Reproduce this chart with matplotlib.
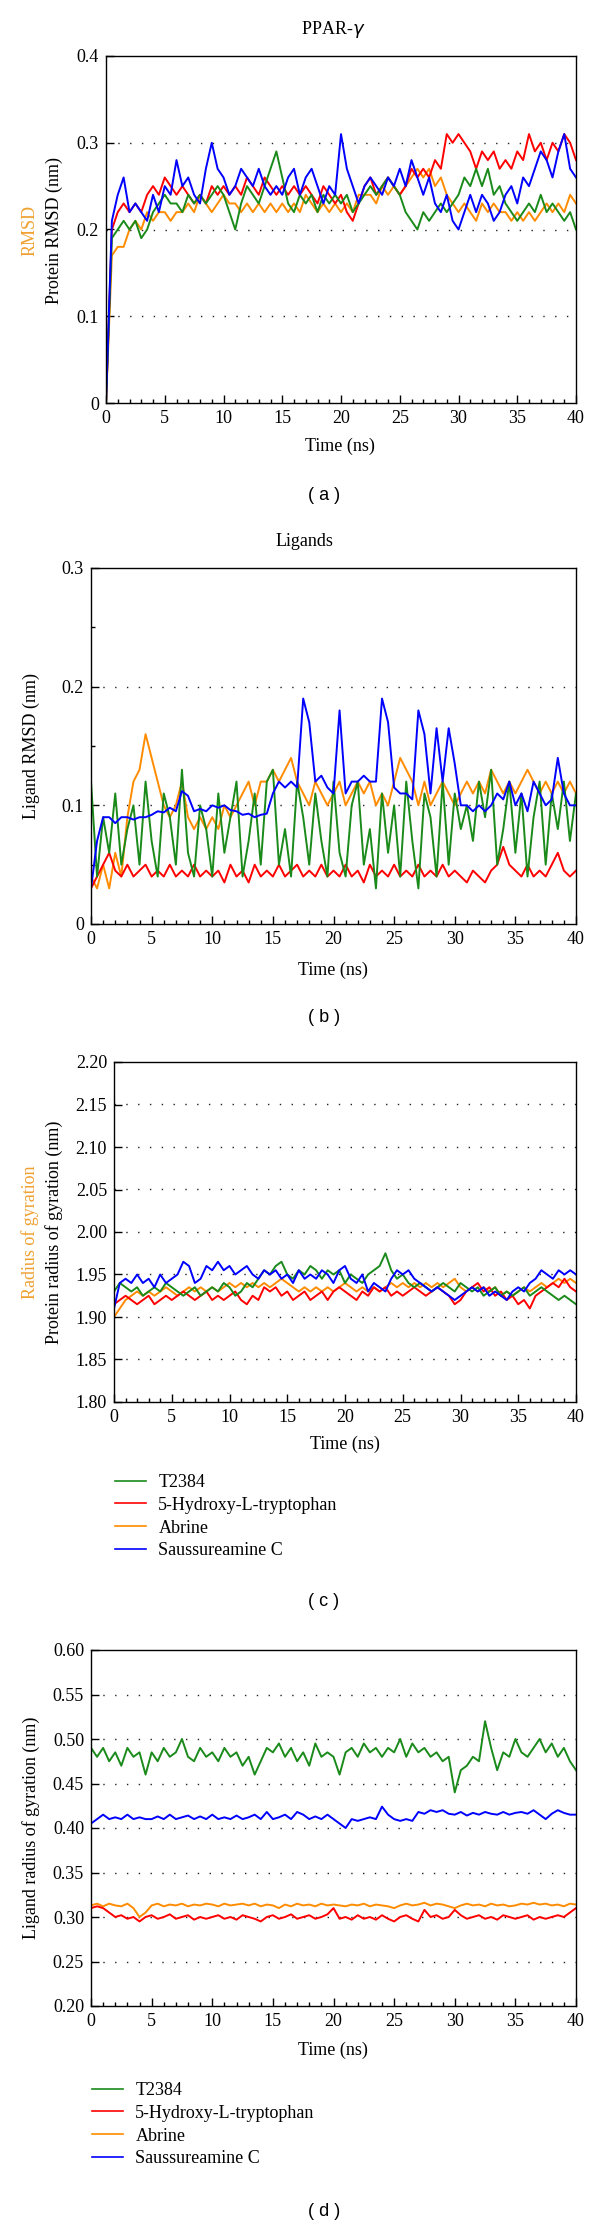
import numpy as np
import matplotlib
matplotlib.use('Agg')
import matplotlib.pyplot as plt
from matplotlib.ticker import MultipleLocator
from matplotlib.lines import Line2D

plt.rcParams['font.family'] = ['Liberation Serif', 'DejaVu Serif']
plt.rcParams['font.size'] = 13

# time axis (ns), one reading every 0.5 ns
t = np.arange(0, 40.01, 0.5)

names = ['T2384', '5-Hydroxy-L-tryptophan', 'Abrine', 'Saussureamine C']
colors = ['#1a8a1a', '#ff0000', '#ff8c00', '#0000ff']

# (a) protein RMSD (nm)
a_green = [0.00, 0.19, 0.20, 0.21, 0.20, 0.21, 0.19, 0.20, 0.22, 0.23,
           0.24, 0.23, 0.23, 0.22, 0.24, 0.23, 0.24, 0.23, 0.24, 0.25,
           0.24, 0.22, 0.20, 0.23, 0.25, 0.24, 0.23, 0.25, 0.27, 0.29,
           0.26, 0.23, 0.22, 0.24, 0.23, 0.24, 0.22, 0.24, 0.23, 0.24,
           0.23, 0.24, 0.22, 0.23, 0.24, 0.25, 0.24, 0.25, 0.26, 0.25,
           0.24, 0.22, 0.21, 0.20, 0.22, 0.21, 0.22, 0.23, 0.22, 0.23,
           0.24, 0.26, 0.25, 0.27, 0.25, 0.27, 0.24, 0.25, 0.23, 0.22,
           0.21, 0.22, 0.23, 0.22, 0.24, 0.22, 0.23, 0.22, 0.21, 0.22,
           0.20]
a_red = [0.00, 0.20, 0.22, 0.23, 0.22, 0.23, 0.22, 0.24, 0.25, 0.24,
         0.26, 0.25, 0.24, 0.25, 0.24, 0.23, 0.24, 0.23, 0.25, 0.24,
         0.25, 0.24, 0.25, 0.24, 0.26, 0.25, 0.24, 0.26, 0.25, 0.24,
         0.25, 0.24, 0.25, 0.24, 0.25, 0.24, 0.23, 0.25, 0.24, 0.23,
         0.24, 0.22, 0.21, 0.23, 0.25, 0.26, 0.24, 0.25, 0.26, 0.25,
         0.24, 0.25, 0.27, 0.26, 0.27, 0.26, 0.28, 0.27, 0.31, 0.30,
         0.31, 0.30, 0.29, 0.27, 0.29, 0.28, 0.29, 0.27, 0.28, 0.27,
         0.29, 0.28, 0.31, 0.29, 0.30, 0.28, 0.30, 0.29, 0.31, 0.30,
         0.28]
a_orange = [0.00, 0.17, 0.18, 0.18, 0.20, 0.21, 0.20, 0.22, 0.21, 0.22,
            0.22, 0.21, 0.22, 0.22, 0.23, 0.22, 0.24, 0.23, 0.22, 0.23,
            0.24, 0.23, 0.23, 0.22, 0.23, 0.22, 0.23, 0.22, 0.23, 0.22,
            0.23, 0.22, 0.23, 0.22, 0.24, 0.23, 0.22, 0.23, 0.22, 0.23,
            0.22, 0.23, 0.22, 0.24, 0.24, 0.24, 0.23, 0.25, 0.24, 0.25,
            0.24, 0.25, 0.26, 0.27, 0.26, 0.27, 0.25, 0.26, 0.24, 0.23,
            0.22, 0.23, 0.22, 0.21, 0.23, 0.22, 0.23, 0.22, 0.22, 0.21,
            0.22, 0.21, 0.22, 0.21, 0.22, 0.23, 0.22, 0.23, 0.22, 0.24,
            0.23]
a_blue = [0.00, 0.21, 0.24, 0.26, 0.22, 0.23, 0.22, 0.21, 0.24, 0.22,
          0.25, 0.24, 0.28, 0.25, 0.26, 0.24, 0.23, 0.27, 0.30, 0.27,
          0.26, 0.24, 0.25, 0.27, 0.26, 0.25, 0.27, 0.25, 0.24, 0.25,
          0.24, 0.26, 0.27, 0.24, 0.26, 0.27, 0.25, 0.23, 0.25, 0.24,
          0.31, 0.27, 0.25, 0.23, 0.25, 0.26, 0.25, 0.24, 0.26, 0.25,
          0.27, 0.25, 0.28, 0.26, 0.24, 0.26, 0.23, 0.22, 0.24, 0.21,
          0.20, 0.22, 0.24, 0.22, 0.24, 0.23, 0.21, 0.22, 0.24, 0.25,
          0.23, 0.26, 0.25, 0.27, 0.29, 0.28, 0.26, 0.29, 0.31, 0.27,
          0.26]

# (b) ligand RMSD (nm)
b_green = [0.12, 0.04, 0.09, 0.06, 0.11, 0.05, 0.08, 0.10, 0.05, 0.12,
           0.07, 0.04, 0.11, 0.09, 0.05, 0.13, 0.06, 0.04, 0.10, 0.08,
           0.04, 0.11, 0.06, 0.09, 0.12, 0.04, 0.07, 0.11, 0.05, 0.12,
           0.13, 0.05, 0.08, 0.04, 0.12, 0.09, 0.05, 0.11, 0.07, 0.04,
           0.12, 0.06, 0.04, 0.10, 0.12, 0.05, 0.08, 0.03, 0.11, 0.06,
           0.10, 0.04, 0.12, 0.07, 0.03, 0.11, 0.09, 0.04, 0.12, 0.05,
           0.11, 0.08, 0.10, 0.07, 0.12, 0.09, 0.13, 0.05, 0.08, 0.12,
           0.06, 0.11, 0.04, 0.09, 0.12, 0.05, 0.11, 0.08, 0.12, 0.07,
           0.11]
b_red = [0.03, 0.04, 0.05, 0.06, 0.045, 0.04, 0.05, 0.04, 0.045, 0.05,
         0.04, 0.045, 0.04, 0.05, 0.04, 0.045, 0.04, 0.05, 0.04, 0.045,
         0.04, 0.045, 0.035, 0.05, 0.04, 0.045, 0.035, 0.05, 0.04, 0.045,
         0.04, 0.05, 0.04, 0.045, 0.05, 0.04, 0.045, 0.04, 0.05, 0.04,
         0.045, 0.04, 0.05, 0.04, 0.045, 0.035, 0.05, 0.04, 0.045, 0.04,
         0.05, 0.04, 0.045, 0.04, 0.05, 0.04, 0.045, 0.04, 0.05, 0.04,
         0.045, 0.04, 0.035, 0.045, 0.04, 0.035, 0.045, 0.05, 0.065, 0.05,
         0.045, 0.04, 0.05, 0.04, 0.045, 0.04, 0.05, 0.06, 0.045, 0.04,
         0.045]
b_orange = [0.04, 0.03, 0.05, 0.03, 0.06, 0.04, 0.09, 0.12, 0.13, 0.16,
            0.14, 0.12, 0.10, 0.09, 0.10, 0.12, 0.09, 0.08, 0.09, 0.08,
            0.09, 0.08, 0.10, 0.09, 0.10, 0.11, 0.12, 0.10, 0.12, 0.12,
            0.13, 0.12, 0.13, 0.14, 0.12, 0.11, 0.10, 0.12, 0.11, 0.10,
            0.11, 0.12, 0.10, 0.11, 0.12, 0.11, 0.12, 0.10, 0.11, 0.10,
            0.12, 0.14, 0.13, 0.12, 0.10, 0.12, 0.10, 0.11, 0.12, 0.11,
            0.10, 0.11, 0.12, 0.11, 0.12, 0.11, 0.13, 0.12, 0.11, 0.12,
            0.11, 0.12, 0.13, 0.12, 0.11, 0.12, 0.11, 0.12, 0.11, 0.12,
            0.11]
b_blue = [0.03, 0.07, 0.09, 0.09, 0.085, 0.09, 0.09, 0.088, 0.09, 0.09,
          0.092, 0.095, 0.094, 0.098, 0.095, 0.112, 0.108, 0.095, 0.097, 0.095,
          0.10, 0.098, 0.10, 0.096, 0.095, 0.092, 0.093, 0.09, 0.092, 0.093,
          0.11, 0.12, 0.115, 0.12, 0.115, 0.19, 0.17, 0.12, 0.125, 0.115,
          0.11, 0.18, 0.11, 0.12, 0.12, 0.125, 0.12, 0.12, 0.19, 0.17,
          0.115, 0.11, 0.11, 0.105, 0.18, 0.16, 0.11, 0.165, 0.12, 0.165,
          0.135, 0.10, 0.10, 0.095, 0.10, 0.095, 0.10, 0.11, 0.105, 0.12,
          0.10, 0.11, 0.095, 0.12, 0.11, 0.10, 0.105, 0.14, 0.11, 0.10,
          0.10]

# (c) protein radius of gyration (nm)
c_green = [1.93, 1.94, 1.935, 1.93, 1.935, 1.925, 1.93, 1.935, 1.93, 1.94,
           1.935, 1.93, 1.925, 1.93, 1.935, 1.925, 1.93, 1.935, 1.93, 1.94,
           1.935, 1.925, 1.93, 1.94, 1.935, 1.945, 1.955, 1.95, 1.96, 1.965,
           1.95, 1.945, 1.955, 1.95, 1.96, 1.955, 1.945, 1.955, 1.95, 1.955,
           1.94, 1.95, 1.945, 1.94, 1.95, 1.955, 1.96, 1.975, 1.955, 1.945,
           1.95, 1.94, 1.935, 1.94, 1.935, 1.93, 1.935, 1.94, 1.935, 1.93,
           1.94, 1.935, 1.93, 1.935, 1.925, 1.93, 1.935, 1.925, 1.93, 1.925,
           1.93, 1.935, 1.925, 1.93, 1.935, 1.93, 1.925, 1.92, 1.925, 1.92,
           1.915]
c_red = [1.915, 1.92, 1.925, 1.92, 1.915, 1.92, 1.925, 1.915, 1.92, 1.925,
         1.92, 1.925, 1.93, 1.925, 1.92, 1.925, 1.93, 1.92, 1.925, 1.92,
         1.925, 1.93, 1.92, 1.915, 1.925, 1.92, 1.935, 1.93, 1.935, 1.925,
         1.93, 1.92, 1.925, 1.93, 1.92, 1.925, 1.93, 1.92, 1.93, 1.935,
         1.93, 1.925, 1.92, 1.93, 1.925, 1.935, 1.93, 1.935, 1.925, 1.93,
         1.925, 1.93, 1.935, 1.93, 1.925, 1.93, 1.935, 1.93, 1.925, 1.915,
         1.92, 1.93, 1.935, 1.94, 1.93, 1.935, 1.925, 1.93, 1.92, 1.925,
         1.915, 1.92, 1.91, 1.925, 1.93, 1.935, 1.94, 1.935, 1.945, 1.935,
         1.93]
c_orange = [1.90, 1.91, 1.92, 1.925, 1.93, 1.925, 1.93, 1.925, 1.93, 1.935,
            1.93, 1.925, 1.93, 1.935, 1.93, 1.935, 1.93, 1.935, 1.93, 1.935,
            1.94, 1.935, 1.94, 1.935, 1.94, 1.935, 1.94, 1.935, 1.94, 1.945,
            1.94, 1.935, 1.93, 1.935, 1.93, 1.935, 1.93, 1.935, 1.93, 1.935,
            1.94, 1.935, 1.93, 1.935, 1.93, 1.935, 1.93, 1.935, 1.94, 1.935,
            1.94, 1.935, 1.94, 1.935, 1.94, 1.935, 1.94, 1.935, 1.94, 1.945,
            1.935, 1.93, 1.935, 1.93, 1.935, 1.93, 1.935, 1.925, 1.93, 1.925,
            1.93, 1.935, 1.93, 1.935, 1.94, 1.935, 1.94, 1.945, 1.94, 1.945,
            1.94]
c_blue = [1.91, 1.94, 1.945, 1.94, 1.95, 1.94, 1.945, 1.935, 1.95, 1.94,
          1.945, 1.95, 1.965, 1.96, 1.94, 1.945, 1.96, 1.955, 1.965, 1.955,
          1.96, 1.95, 1.955, 1.96, 1.95, 1.945, 1.955, 1.95, 1.955, 1.945,
          1.95, 1.94, 1.955, 1.945, 1.95, 1.945, 1.955, 1.95, 1.94, 1.955,
          1.96, 1.945, 1.94, 1.95, 1.93, 1.94, 1.935, 1.93, 1.945, 1.955,
          1.95, 1.955, 1.945, 1.94, 1.935, 1.93, 1.935, 1.93, 1.925, 1.92,
          1.925, 1.93, 1.935, 1.93, 1.935, 1.925, 1.93, 1.925, 1.92, 1.93,
          1.935, 1.93, 1.94, 1.945, 1.955, 1.95, 1.945, 1.955, 1.95, 1.955,
          1.95]

# (d) ligand radius of gyration (nm)
d_green = [0.49, 0.48, 0.49, 0.475, 0.485, 0.47, 0.49, 0.48, 0.485, 0.46,
           0.485, 0.475, 0.49, 0.48, 0.485, 0.50, 0.48, 0.475, 0.49, 0.48,
           0.485, 0.475, 0.49, 0.48, 0.485, 0.47, 0.48, 0.46, 0.475, 0.49,
           0.485, 0.495, 0.48, 0.49, 0.475, 0.485, 0.47, 0.495, 0.48, 0.485,
           0.48, 0.46, 0.485, 0.49, 0.48, 0.495, 0.485, 0.49, 0.48, 0.49,
           0.485, 0.50, 0.48, 0.495, 0.485, 0.49, 0.48, 0.485, 0.475, 0.48,
           0.44, 0.465, 0.47, 0.48, 0.475, 0.52, 0.49, 0.465, 0.485, 0.48,
           0.50, 0.485, 0.48, 0.49, 0.50, 0.485, 0.495, 0.48, 0.49, 0.475,
           0.465]
d_red = [0.31, 0.312, 0.31, 0.305, 0.30, 0.302, 0.298, 0.30, 0.295, 0.30,
         0.302, 0.298, 0.30, 0.303, 0.298, 0.30, 0.302, 0.297, 0.30, 0.298,
         0.30, 0.302, 0.298, 0.30, 0.297, 0.302, 0.30, 0.298, 0.295, 0.30,
         0.302, 0.298, 0.30, 0.303, 0.298, 0.30, 0.302, 0.298, 0.30, 0.303,
         0.31, 0.298, 0.30, 0.297, 0.302, 0.298, 0.30, 0.297, 0.302, 0.298,
         0.295, 0.30, 0.302, 0.298, 0.295, 0.308, 0.30, 0.302, 0.298, 0.30,
         0.308, 0.302, 0.298, 0.30, 0.302, 0.298, 0.30, 0.297, 0.302, 0.30,
         0.298, 0.30, 0.302, 0.297, 0.30, 0.298, 0.30, 0.302, 0.30, 0.305,
         0.31]
d_orange = [0.313, 0.315, 0.312, 0.315, 0.313, 0.312, 0.315, 0.31, 0.30, 0.305,
            0.313, 0.315, 0.312, 0.314, 0.313, 0.315, 0.312, 0.314, 0.313, 0.315,
            0.314, 0.312, 0.315, 0.313, 0.314, 0.315, 0.313, 0.315, 0.312, 0.314,
            0.313, 0.31, 0.314, 0.312, 0.315, 0.313, 0.314, 0.312, 0.315, 0.313,
            0.314, 0.313, 0.312, 0.314, 0.313, 0.315, 0.312, 0.314, 0.313, 0.312,
            0.31, 0.313, 0.315, 0.313, 0.314, 0.316, 0.313, 0.315, 0.314, 0.312,
            0.31, 0.313, 0.315, 0.313, 0.314, 0.312, 0.315, 0.313, 0.314, 0.312,
            0.313, 0.315, 0.314, 0.316, 0.314, 0.315, 0.313, 0.314, 0.312, 0.315,
            0.314]
d_blue = [0.405, 0.41, 0.415, 0.41, 0.412, 0.41, 0.415, 0.41, 0.412, 0.41,
          0.41, 0.413, 0.41, 0.415, 0.41, 0.412, 0.414, 0.41, 0.413, 0.41,
          0.415, 0.41, 0.412, 0.41, 0.414, 0.41, 0.412, 0.415, 0.41, 0.418,
          0.41, 0.412, 0.415, 0.41, 0.418, 0.415, 0.41, 0.413, 0.41, 0.415,
          0.41, 0.405, 0.40, 0.41, 0.408, 0.41, 0.412, 0.41, 0.424, 0.415,
          0.41, 0.408, 0.41, 0.408, 0.418, 0.416, 0.42, 0.418, 0.42, 0.416,
          0.415, 0.418, 0.414, 0.417, 0.415, 0.418, 0.416, 0.415, 0.418, 0.415,
          0.417, 0.418, 0.416, 0.42, 0.415, 0.41, 0.416, 0.42, 0.417, 0.415,
          0.415]

W, H = 600, 2228
fig = plt.figure(figsize=(W / 100, H / 100), dpi=100)

def box(left, top, right, bottom):
    return [left / W, 1 - bottom / H, (right - left) / W, (bottom - top) / H]

def ftext(x, y, s, **kw):
    fig.text(x / W, 1 - y / H, s, ha='center', va='center', **kw)

def panel(rect, series, ylim, ystep, yminor, yfmt):
    ax = fig.add_axes(rect)
    # draw order: abrine, 5-HTP, T2384, saussureamine C
    for i in [2, 1, 0, 3]:
        ax.plot(t, series[i], color=colors[i], lw=1.4)
    ax.set_xlim(0, 40)
    ax.set_ylim(*ylim)
    ax.xaxis.set_major_locator(MultipleLocator(5))
    ax.xaxis.set_minor_locator(MultipleLocator(1))
    ax.yaxis.set_major_locator(MultipleLocator(ystep))
    if yminor:
        ax.yaxis.set_minor_locator(MultipleLocator(yminor))
    ax.yaxis.set_major_formatter(plt.FormatStrFormatter(yfmt))
    ax.tick_params(which='both', direction='in', top=False, right=False, pad=5)
    ax.tick_params(which='major', length=6, width=1)
    ax.tick_params(which='minor', length=3, width=1)
    for s in ax.spines.values():
        s.set_linewidth(1)
    for v in np.arange(ylim[0] + ystep, ylim[1] - ystep / 2, ystep):
        ax.axhline(v, color='#222222', lw=1, ls=(0, (1, 7.5)), zorder=0)
    return ax

ax_a = panel(box(106, 56, 576, 403), [a_green, a_red, a_orange, a_blue],
             (0, 0.4), 0.1, None, '%g')
ax_b = panel(box(91, 568, 576, 924), [b_green, b_red, b_orange, b_blue],
             (0, 0.3), 0.1, 0.05, '%g')
ax_c = panel(box(114, 1062, 576, 1402), [c_green, c_red, c_orange, c_blue],
             (1.8, 2.2), 0.05, None, '%.2f')
ax_d = panel(box(91, 1650, 576, 2006), [d_green, d_red, d_orange, d_blue],
             (0.2, 0.6), 0.05, None, '%.2f')

orange_lbl = '#f0a030'

# (a)
ftext(333, 30, r'PPAR-$\gamma$')
ftext(30, 230, 'RMSD', rotation=90, color=orange_lbl)
ftext(54, 230, 'Protein RMSD (nm)', rotation=90)
ftext(340, 446, 'Time (ns)')
ftext(324, 495, '( a )', family=['Liberation Sans', 'DejaVu Sans'])

# (b)
ftext(304, 541, 'Ligands')
ftext(31, 746, 'Ligand RMSD (nm)', rotation=90)
ftext(333, 970, 'Time (ns)')
ftext(324, 1017, '( b )', family=['Liberation Sans', 'DejaVu Sans'])

# (c)
ftext(30, 1232, 'Radius of gyration', rotation=90, color=orange_lbl)
ftext(54, 1232, 'Protein radius of gyration (nm)', rotation=90)
ftext(345, 1444, 'Time (ns)')
ftext(324, 1602, '( c )', family=['Liberation Sans', 'DejaVu Sans'])

# (d)
ftext(31, 1828, 'Ligand radius of gyration (nm)', rotation=90)
ftext(333, 2050, 'Time (ns)')
ftext(324, 2211, '( d )', family=['Liberation Sans', 'DejaVu Sans'])

handles = [Line2D([], [], color=c, lw=1.2) for c in colors]
for x0, y0 in [(115, 1474), (92, 2082)]:
    fig.legend(handles, names, loc='upper left',
               bbox_to_anchor=(x0 / W, 1 - y0 / H), frameon=False,
               handlelength=1.7, handletextpad=0.7, labelspacing=0.32,
               borderpad=0, borderaxespad=0, fontsize=13)

plt.savefig('out.png', dpi=100)
